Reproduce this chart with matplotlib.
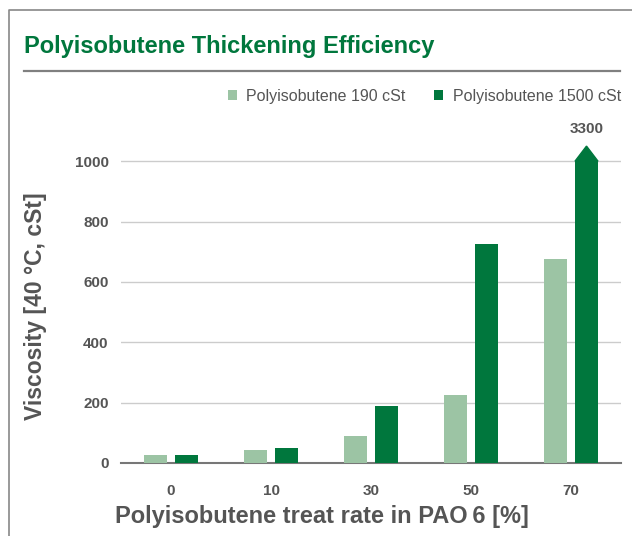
import matplotlib.pyplot as plt
import numpy as np
from matplotlib.lines import Line2D
from matplotlib.patches import Polygon

# data
rates = ['0', '10', '30', '50', '70']
pib_190 = [25, 43, 90, 225, 675]
pib_1500 = [25, 50, 190, 725, 3300]
y_ticks = [0, 200, 400, 600, 800, 1000]
cap = 1000  # bars above this are cut and marked with an arrow

light = '#9cc4a4'
dark = '#00773d'
grey = '#555555'

plt.rcParams['font.family'] = ['Liberation Sans', 'DejaVu Sans']

W, H = 632, 536
fig = plt.figure(figsize=(W / 100, H / 100), dpi=100)

def fx(px):
    return px / W

def fy(py):
    return 1 - py / H

# axes box in pixels: x 121..621, y 131..463
AX_L, AX_R, AX_T, AX_B = 121, 621, 131, 463
ax = fig.add_axes([fx(AX_L), fy(AX_B), fx(AX_R) - fx(AX_L), fy(AX_T) - fy(AX_B)])

def ax_x(px):
    return (px - AX_L) / (AX_R - AX_L)

def ax_y(py):
    return (AX_B - py) / (AX_B - AX_T)

x = np.arange(len(rates))
w = 0.23
off = 0.155
shown_1500 = [min(v, cap) for v in pib_1500]
b1 = ax.bar(x - off, pib_190, w, color=light, zorder=3, label='Polyisobutene 190 cSt')
b2 = ax.bar(x + off, shown_1500, w, color=dark, zorder=3, label='Polyisobutene 1500 cSt')

# arrow + label for bars above the cap
for xi, v in zip(x, pib_1500):
    if v > cap:
        xc = xi + off
        tri = Polygon([[xc - w / 2, cap], [xc + w / 2, cap], [xc, cap + 50]],
                      closed=True, color=dark, zorder=3, clip_on=False)
        ax.add_patch(tri)
        ax.text(xc, cap + 105, f'{v}', ha='center', va='center', fontsize=11,
                fontweight='bold', color=grey, clip_on=False)

ax.set_xlim(-0.5, len(rates) - 0.5)
ax.set_ylim(0, 1100)
ax.set_yticks(y_ticks)
ax.set_yticklabels([str(t) for t in y_ticks])
ax.set_xticks(x)
ax.set_xticklabels(rates)
ax.tick_params(length=0, labelsize=11, labelcolor=grey)
ax.tick_params(axis='y', pad=9)
ax.tick_params(axis='x', pad=15)
for lbl in ax.get_xticklabels() + ax.get_yticklabels():
    lbl.set_fontweight('bold')

ax.yaxis.grid(True, color='#cccccc', lw=1)
ax.set_axisbelow(True)
for s in ['top', 'right', 'left']:
    ax.spines[s].set_visible(False)
ax.spines['bottom'].set_color('#777777')
ax.spines['bottom'].set_linewidth(1.5)
ax.set_facecolor('none')

ax.set_ylabel('Viscosity [40 °C, cSt]', fontsize=16.5, fontweight='bold', color=grey)
ax.yaxis.label.set_va('center')
ax.yaxis.set_label_coords(ax_x(36), ax_y(306))
ax.set_xlabel('Polyisobutene treat rate in PAO\u20096 [%]', fontsize=17, fontweight='bold',
              color=grey)
ax.xaxis.label.set_va('center')
ax.xaxis.set_label_coords(ax_x(321.5), ax_y(517))

# title, rule and outer frame
fig.text(fx(24), fy(47), 'Polyisobutene Thickening Efficiency', fontsize=17,
         fontweight='bold', color=dark, va='center', ha='left')
fig.add_artist(Line2D([fx(24), fx(620)], [fy(71), fy(71)], color='#808080', lw=1.6))
fig.add_artist(Line2D([fx(9), fx(9), fx(632)], [fy(536), fy(10), fy(10)], color='#888888', lw=1.2))

fig.legend(handles=[b1, b2], loc='center right', bbox_to_anchor=(fx(621), fy(96)),
           ncol=2, frameon=False, fontsize=11.5, labelcolor=grey, handlelength=0.56,
           handleheight=0.56, handletextpad=0.6, columnspacing=1.8, borderpad=0,
           borderaxespad=0)

fig.savefig('out.png', dpi=100)
